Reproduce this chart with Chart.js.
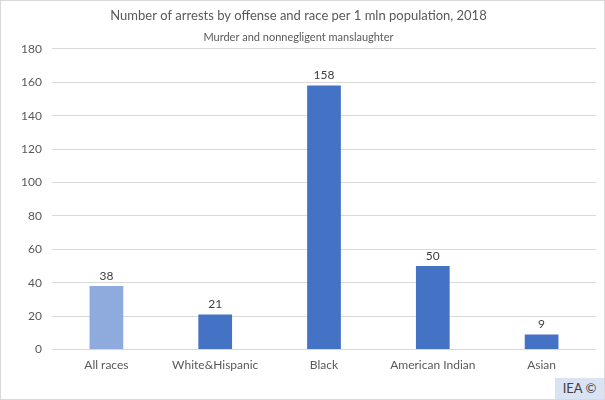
<!DOCTYPE html>
<html>
<head>
<meta charset="utf-8">
<script src="https://cdn.jsdelivr.net/npm/chart.js@4.4.0/dist/chart.umd.min.js"></script>
<style>
  html, body { margin: 0; padding: 0; background: #fff; }
  #wrap { position: relative; width: 603px; height: 398px; border: 1px solid #d9d9d9; }
  #iea { position: absolute; right: 0; bottom: 0; width: 49px; height: 21px; background: #dae3f3;
         font: 13px Lato, sans-serif; color: #404040; text-align: center; line-height: 21px; }
</style>
</head>
<body>
<div id="wrap">
  <canvas id="arrests" width="603" height="398"></canvas>
  <div id="iea">IEA ©</div>
</div>
<script>
// values
const races = ['All races', 'White&Hispanic', 'Black', 'American Indian', 'Asian'];
const arrests = [38, 21, 158, 50, 9];
const barColors = ['#8faadc', '#4472c4', '#4472c4', '#4472c4', '#4472c4'];
const yTicks = [0, 20, 40, 60, 80, 100, 120, 140, 160, 180];

// simple value labels above the bars
const barLabels = {
  id: 'barLabels',
  afterDatasetsDraw(chart) {
    const ctx = chart.ctx;
    const meta = chart.getDatasetMeta(0);
    ctx.save();
    ctx.font = '12px Lato, sans-serif';
    ctx.fillStyle = '#404040';
    ctx.textAlign = 'center';
    ctx.textBaseline = 'bottom';
    meta.data.forEach((bar, i) => {
      ctx.fillText(arrests[i], bar.x, bar.y - 4);
    });
    ctx.restore();
  }
};

function chart() {
  var ctx = document.getElementById('arrests');
  new Chart(ctx, {
    type: 'bar',
    data: {
      labels: races,
      datasets: [{
        label: 'Arrests per 1 mln',
        data: arrests,
        backgroundColor: barColors,
        categoryPercentage: 1,
        barPercentage: 0.31
      }]
    },
    options: {
      responsive: false,
      animation: false,
      layout: { padding: { top: 0, right: 8, bottom: 27, left: 0 } },
      plugins: {
        legend: { display: false },
        tooltip: { enabled: false },
        title: {
          display: true,
          text: 'Number of arrests by offense and race per 1 mln population, 2018',
          color: '#595959',
          font: { family: 'Lato', size: 13, weight: 'normal' },
          padding: { top: 7, bottom: 7 }
        },
        subtitle: {
          display: true,
          text: 'Murder and nonnegligent manslaughter',
          color: '#595959',
          font: { family: 'Lato', size: 11 },
          padding: { top: 0, bottom: 5 }
        }
      },
      scales: {
        x: {
          grid: { display: false },
          border: { display: false },
          ticks: { color: '#595959', font: { family: 'Lato', size: 12 }, padding: 0 }
        },
        y: {
          min: 0,
          max: 180,
          afterBuildTicks: s => { s.ticks = yTicks.map(v => ({ value: v })); },
          afterFit: s => { s.width = 51; },
          grid: { color: '#d9d9d9', drawTicks: false },
          border: { display: false },
          ticks: { color: '#595959', font: { family: 'Lato', size: 12 }, padding: 10 }
        }
      }
    },
    plugins: [barLabels]
  });
}
chart();
</script>
</body>
</html>
